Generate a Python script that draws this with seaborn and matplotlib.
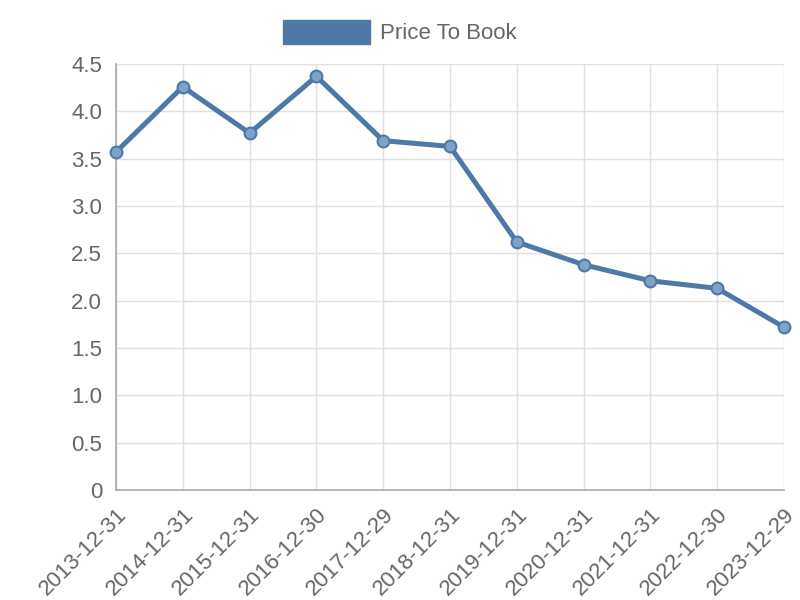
import matplotlib
matplotlib.use("Agg")
import matplotlib.pyplot as plt
import seaborn as sns
import pandas as pd
from matplotlib.patches import Patch
from matplotlib.ticker import FuncFormatter

dates = ["2013-12-31", "2014-12-31", "2015-12-31", "2016-12-30", "2017-12-29",
         "2018-12-31", "2019-12-31", "2020-12-31", "2021-12-31", "2022-12-30",
         "2023-12-29"]
price_to_book = [3.57, 4.26, 3.77, 4.37, 3.69, 3.63, 2.62, 2.38, 2.21, 2.13, 1.72]
series_name = "Price To Book"

line_color = "#4e79a7"
text_color = "#666666"

df = pd.DataFrame({"idx": range(len(dates)), "date": dates, "value": price_to_book})

sns.set_style("white")
plt.rcParams["font.family"] = ["Liberation Sans Narrow", "Liberation Sans", "DejaVu Sans"]

fig = plt.figure(figsize=(8, 6), dpi=100)
ax = fig.add_axes([0.145, 0.1833, 0.835, 0.71])

sns.lineplot(data=df, x="idx", y="value", ax=ax, color=line_color, linewidth=3.6,
             marker="o", markersize=8.5, markerfacecolor="#7fa2c8",
             markeredgecolor=line_color, markeredgewidth=1.5, sort=False,
             clip_on=False, zorder=3)

ax.set_xlim(0, len(dates) - 1)
ax.set_ylim(0, 4.5)
ax.set_yticks([i * 0.5 for i in range(10)])
ax.yaxis.set_major_formatter(FuncFormatter(lambda v, p: "0" if v == 0 else f"{v:.1f}"))
ax.set_xticks(df["idx"])
ax.set_xticklabels(df["date"], rotation=45, ha="right", rotation_mode="anchor")

ax.grid(True, color="#e0e0e0", linewidth=1)
ax.set_axisbelow(True)
for side in ["top", "right"]:
    ax.spines[side].set_visible(False)
for side in ["left", "bottom"]:
    ax.spines[side].set_color("#aaaaaa")
    ax.spines[side].set_linewidth(1.2)

ax.tick_params(axis="both", which="both", length=8, color="#cccccc",
               labelsize=16, labelcolor=text_color, pad=2)
ax.set_xlabel("")
ax.set_ylabel("")

fig.legend(handles=[Patch(facecolor=line_color, edgecolor=line_color, label=series_name)],
           loc="center", bbox_to_anchor=(0.5, 0.947), frameon=False,
           fontsize=16, handlelength=3.9, handleheight=1.3, handletextpad=0.45,
           labelcolor=text_color)

fig.savefig("out.png", dpi=100)
